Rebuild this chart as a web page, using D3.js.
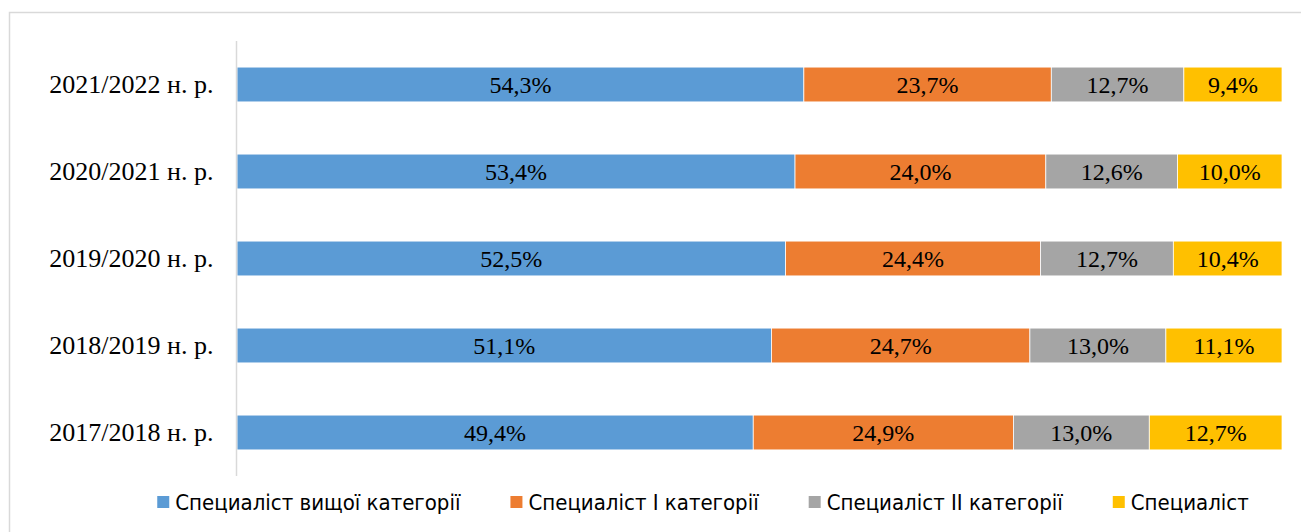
<!DOCTYPE html>
<html>
<head>
<meta charset="utf-8">
<script src="https://cdn.jsdelivr.net/npm/d3@7"></script>
<style>
  body { margin: 0; background: #fff; }
  svg { display: block; }
  .cat { font-family: "Liberation Serif", serif; font-size: 26px; fill: #000; }
  .val { font-family: "Liberation Serif", serif; font-size: 24px; fill: #000; }
  .leg { font-family: "Liberation Sans Narrow", "DejaVu Sans Condensed", sans-serif; font-size: 22px; fill: #000; }
</style>
</head>
<body>
<svg id="chart" width="1301" height="532"></svg>
<script>
// school years, top to bottom
const years = ["2021/2022 н. р.", "2020/2021 н. р.", "2019/2020 н. р.", "2018/2019 н. р.", "2017/2018 н. р."];
const seriesNames = ["Специаліст вищої категорії", "Специаліст I категорії", "Специаліст II категорії", "Специаліст"];
const colors = ["#5B9BD5", "#ED7D31", "#A5A5A5", "#FFC000"];

// values per series, in the same order as years
const higher = [54.3, 53.4, 52.5, 51.1, 49.4];
const first  = [23.7, 24.0, 24.4, 24.7, 24.9];
const second = [12.7, 12.6, 12.7, 13.0, 13.0];
const spec   = [9.4, 10.0, 10.4, 11.1, 12.7];

const table = years.map((y, i) => ({
    year: y,
    s0: higher[i], s1: first[i], s2: second[i], s3: spec[i]
}));
const keys = ["s0", "s1", "s2", "s3"];

const svg = d3.select("#chart");

// chart frame (runs off the right/bottom edge like the screenshot)
svg.append("rect")
    .attr("x", 9.5).attr("y", 12.5)
    .attr("width", 1320).attr("height", 560)
    .attr("fill", "none").attr("stroke", "#D9D9D9").attr("stroke-width", 1.5);

const plot = { left: 237, right: 1282, top: 41, bottom: 476 };

const x = d3.scaleLinear().domain([0, 1]).range([plot.left, plot.right]);
const y = d3.scaleBand().domain(years).range([plot.top, plot.bottom])
    .paddingInner(0.6).paddingOuter(0.3);

// 100% stacked
const stack = d3.stack().keys(keys).offset(d3.stackOffsetExpand);
const layers = stack(table);

const g = svg.append("g");
layers.forEach((layer, k) => {
    const lg = g.append("g").attr("fill", colors[k]);
    lg.selectAll("rect").data(layer).join("rect")
        .attr("x", d => x(d[0]))
        .attr("y", d => y(d.data.year))
        .attr("width", d => x(d[1]) - x(d[0]))
        .attr("height", y.bandwidth())
        .attr("stroke", "#fff").attr("stroke-width", 0.75);

    lg.selectAll("text").data(layer).join("text")
        .attr("class", "val")
        .attr("x", d => (x(d[0]) + x(d[1])) / 2)
        .attr("y", d => y(d.data.year) + y.bandwidth() / 2)
        .attr("dy", "0.35em")
        .attr("text-anchor", "middle")
        .text(d => d3.format(".1f")(d.data[layer.key]).replace(".", ",") + "%");
});

// category axis
const yAxis = svg.append("g")
    .attr("transform", `translate(${plot.left - 0.5},0)`)
    .call(d3.axisLeft(y).tickSize(0).tickPadding(23));
yAxis.select(".domain").attr("stroke", "#D9D9D9").attr("stroke-width", 1.5)
    .attr("d", `M0,${plot.top}V${plot.bottom}`);
yAxis.selectAll(".tick text").attr("class", "cat");
yAxis.attr("font-family", null).attr("font-size", null);

// legend
const legend = svg.append("g").attr("transform", "translate(0,502)");
const items = legend.selectAll("g").data(seriesNames).join("g");
items.append("rect")
    .attr("width", 12).attr("height", 12).attr("y", -6)
    .attr("fill", (d, i) => colors[i]);
items.append("text")
    .attr("class", "leg")
    .attr("x", 18).attr("dy", "0.35em")
    .text(d => d);

const gap = 50;
let widths = [];
items.each(function () { widths.push(this.querySelector("text").getComputedTextLength() + 18); });
const total = d3.sum(widths) + gap * (widths.length - 1);
let cx = 703 - total / 2;
items.attr("transform", (d, i) => {
    const t = `translate(${cx},0)`;
    cx += widths[i] + gap;
    return t;
});
</script>
</body>
</html>
